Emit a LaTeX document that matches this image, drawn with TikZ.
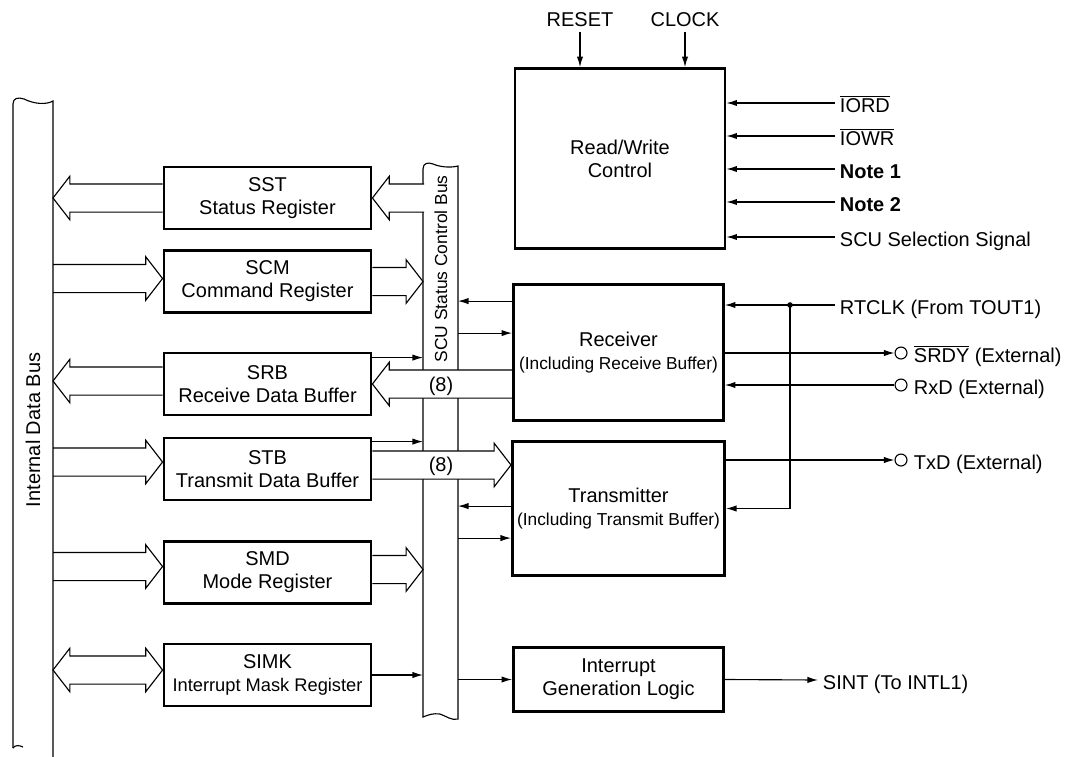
\documentclass[tikz,border=0pt]{standalone}
\usepackage{fontspec}
\setmainfont{Liberation Sans}
\usetikzlibrary{arrows.meta,calc,backgrounds}

\newcommand{\ovl}[1]{$\overline{\mbox{#1}}$}
\newcommand{\smallf}{\fontsize{12.3}{16.4}\selectfont}
% wide (bus) arrow: shaft starts at x of #1, tip at #2
\newcommand{\busarrow}[2]{%
  \filldraw[bus] let \p1=#1, \p2=#2, \n2={12pt*(\x2-\x1)/abs(\x2-\x1)} in
    (\x1,\y2+10pt) -- ({\x2-(\n2)},\y2+10pt) -- ({\x2-(\n2)},\y2+15.5pt)
    -- (\x2,\y2) -- ({\x2-(\n2)},\y2-15.5pt) -- ({\x2-(\n2)},\y2-10pt) -- (\x1,\y2-10pt);}
% wide arrow with a head at both ends
\newcommand{\busarrowboth}[2]{%
  \filldraw[bus] let \p1=#1, \p2=#2, \n2={12pt*(\x2-\x1)/abs(\x2-\x1)} in
    (\x1,\y2) -- ({\x1+(\n2)},\y2+15.5pt) -- ({\x1+(\n2)},\y2+10pt)
    -- ({\x2-(\n2)},\y2+10pt) -- ({\x2-(\n2)},\y2+15.5pt) -- (\x2,\y2)
    -- ({\x2-(\n2)},\y2-15.5pt) -- ({\x2-(\n2)},\y2-10pt)
    -- ({\x1+(\n2)},\y2-10pt) -- ({\x1+(\n2)},\y2-15.5pt) -- cycle;}

\tikzset{
  reg/.style={draw, line width=2pt, minimum width=5.175cm, minimum height=1.55cm, align=center},
  unit/.style={draw, line width=2pt, minimum width=5.25cm, align=center},
  sig/.style={line width=.8pt, -{Latex[length=7.5pt,width=4.5pt]}},
  bus/.style={line width=.8pt, fill=white},
  busline/.style={line width=.8pt},
  sigl/.style={anchor=west, text height=13pt, text depth=0pt},
  port/.style={draw, circle, line width=.8pt, minimum size=8.5pt, inner sep=0pt},
}

\begin{document}
\begin{tikzpicture}[x=0.025cm, y=-0.025cm, font=\fontsize{14.2}{16.4}\selectfont]
\useasboundingbox (0,0) rectangle (1081,757);

% registers
\node[reg] (sst) at (267.5,198) {SST\\Status Register};
\node[reg] (scm) at (267.5,281.5) {SCM\\Command Register};
\node[reg] (srb) at (267.5,384) {SRB\\Receive Data Buffer};
\node[reg] (stb) at (267.5,469) {STB\\Transmit Data Buffer};
\node[reg] (smd) at (267.5,572.5) {SMD\\Mode Register};
\node[reg] (simk) at (267.5,675) {SIMK\\{\fontsize{13}{16.4}\selectfont Interrupt Mask Register}};

% serial control unit blocks
\node[unit, minimum height=4.5cm] (rwc) at (620,158.5) {Read/Write\\Control};
\node[unit, minimum height=3.4cm] (rx) at (618.5,352.5) {Receiver\\{\smallf (Including Receive Buffer)}};
\node[unit, minimum height=3.35cm] (tx) at (618.5,508.5) {Transmitter\\{\smallf (Including Transmit Buffer)}};
\node[unit, minimum height=1.6cm] (igl) at (618.5,679.5) {Interrupt\\Generation Logic};

\coordinate (idbR) at (53,0);
\coordinate (scubL) at (423,0);
\coordinate (scubR) at (458,0);

\begin{scope}[on background layer]
% SCU status control bus
\filldraw[bus] (423,717) -- (423,169) .. controls (423,163) and (428,162) .. (433,164)
  .. controls (440,167) and (450,168) .. (458,166) -- (458,719)
  .. controls (452,721) and (446,716) .. (440,714) .. controls (433,713) and (428,715) .. (423,717) -- cycle;
% wide arrows
\busarrow{($(scubL)+(1,0)$)}{(sst.east)}
\busarrow{(scm.east)}{(scubL |- scm.east)}
\busarrow{(rx.west)}{(srb.east)}
\busarrow{(stb.east)}{($(tx.west |- stb.east)+(0,-4)$)}
\busarrow{(smd.east)}{($(scubL |- smd.east)+(0,-3)$)}
\busarrow{(sst.west)}{(idbR |- sst.west)}
\busarrow{(idbR)}{($(scm.west)+(0,-3)$)}
\busarrow{(srb.west)}{($(idbR |- srb.west)+(0,-3)$)}
\busarrow{(idbR)}{($(stb.west)+(0,-7)$)}
\busarrow{(idbR)}{($(smd.west)+(0,-6)$)}
\busarrowboth{(idbR)}{($(simk.west)+(0,-5)$)}
% internal data bus
\draw[busline] (13,748) -- (13,104) .. controls (13,98) and (18,97) .. (24,99)
  .. controls (34,104) and (46,105) .. (53,101) -- (53,757);
\draw[busline] (13,748) .. controls (15,745) and (19,745) .. (23,747);
\end{scope}

\node[rotate=90] (idbus) at (33,430) {Internal Data Bus};
\node[rotate=90, font=\fontsize{12.4}{14}\selectfont] (scubus) at (441,269) {SCU Status Control Bus};
\node (w8r) at (441,386) {(8)};
\node (w8t) at (441,466) {(8)};

% control lines to and from the SCU bus
\draw[sig] ($(srb.north east)+(0,6)$) coordinate (s1) -- (s1 -| scubL);
\draw[sig] ($(stb.north east)+(0,5)$) coordinate (s2) -- (s2 -| scubL);
\draw[sig] (simk.east) -- (simk.east -| scubL);
\draw[sig] ($(rx.north west)+(0,18)$) coordinate (s3) -- (s3 -| scubR);
\coordinate (s4) at ($(rx.north west)+(0,50)$);
\draw[sig] (s4 -| scubR) -- (s4);
\draw[sig] ($(tx.north west)+(0,66)$) coordinate (s5) -- (s5 -| scubR);
\coordinate (s6) at ($(tx.north west)+(0,98)$);
\draw[sig] (s6 -| scubR) -- (s6);
\draw[sig] (scubR |- igl.west) -- (igl.west);

% read/write control inputs
\node (reset) at (580,20) {RESET};
\node (clock) at (685,20) {CLOCK};
\draw[sig] (reset) -- (reset |- rwc.north);
\draw[sig] (clock) -- (clock |- rwc.north);
\node[sigl] (iord) at (835,103) {\ovl{IORD}};
\node[sigl] (iowr) at (835,136) {\ovl{IOWR}};
\node[sigl] (note1) at (835,169) {\textbf{Note 1}};
\node[sigl] (note2) at (835,202) {\textbf{Note 2}};
\node[sigl] (scusel) at (835,237) {SCU Selection Signal};
\foreach \s in {iord,iowr,note1,note2,scusel}
  \draw[sig] (\s.west) -- (\s.west -| rwc.east);

% serial lines
\node[sigl] (rtclk) at (835,305) {RTCLK (From TOUT1)};
\coordinate (jn) at (790,305);
\draw[sig] (rtclk.west) -- (rtclk.west -| rx.east);
\fill (jn) circle (2pt);
\draw[sig] (jn) |- (tx.east);
\node[port] (srdy) at (901,353) {};
\node[sigl] (srdyl) at (909,353) {\ovl{SRDY} (External)};
\draw[sig] (rx.east |- srdy) -- (srdy);
\node[port] (rxd) at (901,385) {};
\node[sigl] (rxdl) at (909,385) {RxD (External)};
\draw[sig] (rxd) -- (rx.east |- rxd);
\node[port] (txd) at (901,460) {};
\node[sigl] (txdl) at (909,460) {TxD (External)};
\draw[sig] (tx.east |- txd) -- (txd);
\node[sigl] (sint) at (818,680) {SINT (To INTL1)};
\draw[sig] (igl.east) -- (sint.west);
\end{tikzpicture}
\end{document}
